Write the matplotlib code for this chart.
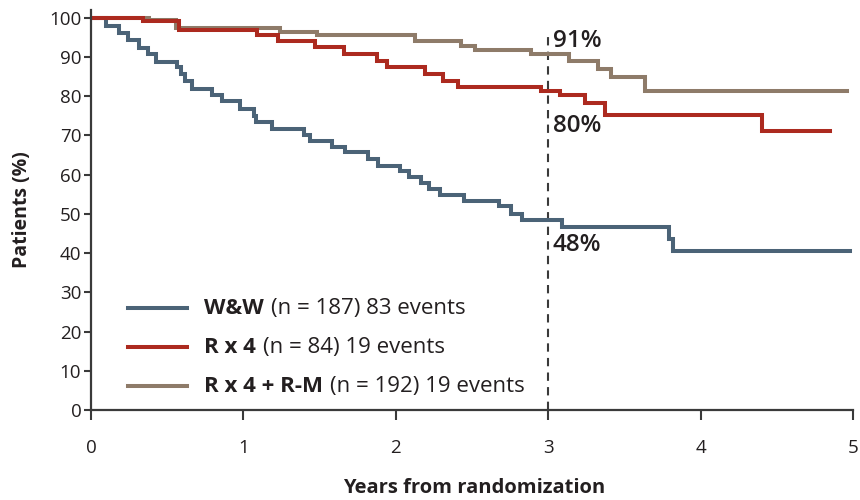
import matplotlib
matplotlib.use("Agg")
import matplotlib.pyplot as plt
from matplotlib.offsetbox import AnchoredOffsetbox, HPacker, VPacker, TextArea, DrawingArea
from matplotlib.lines import Line2D

plt.rcParams['font.family'] = ['Open Sans', 'DejaVu Sans']

# Kaplan-Meier steps (years, % of patients)
ww_years = [0, 0.10, 0.187, 0.246, 0.318, 0.372, 0.426, 0.567, 0.59, 0.615, 0.665, 0.796,
            0.861, 0.98, 1.07, 1.08, 1.19, 1.396, 1.44, 1.58, 1.668, 1.82, 1.885, 2.027,
            2.085, 2.168, 2.22, 2.288, 2.45, 2.68, 2.755, 2.83, 3.09, 3.79, 3.82, 4.98]
ww_pct = [100, 98.0, 96.1, 94.3, 92.4, 90.7, 88.8, 87.4, 85.6, 83.9, 81.8, 80.2,
          78.7, 76.8, 75.0, 73.4, 71.7, 70.0, 68.5, 67.0, 65.7, 64.0, 62.1, 60.9,
          59.5, 57.9, 56.4, 54.7, 53.2, 51.9, 50.0, 48.4, 46.6, 43.7, 40.5, 40.5]

r4_years = [0, 0.34, 0.58, 1.09, 1.23, 1.47, 1.66, 1.875, 1.94, 2.19, 2.31, 2.41,
            2.95, 3.08, 3.24, 3.37, 4.40, 4.85]
r4_pct = [100, 99.2, 96.9, 95.6, 94.1, 92.5, 90.8, 89.1, 87.4, 85.7, 84.0, 82.3,
          81.4, 80.2, 78.3, 75.3, 71.2, 71.2]

rm_years = [0, 0.38, 0.556, 1.24, 1.48, 2.125, 2.43, 2.52, 2.885, 3.135, 3.33, 3.41,
            3.635, 4.96]
rm_pct = [100, 99.4, 97.5, 96.4, 95.6, 94.1, 92.9, 91.8, 90.8, 89.1, 86.9, 85.0,
          81.4, 81.4]

arm_names = ['W&W', 'R x 4', 'R x 4 + R-M']
arm_notes = ['(n = 187) 83 events', '(n = 84) 19 events', '(n = 192) 19 events']
arm_colors = ['#4b6377', '#ac2a1f', '#8e7b69']

landmark = 3
landmark_labels = ['91%', '80%', '48%']
landmark_label_y = [94.2, 72.5, 42.0]

ink = '#231f20'

fig = plt.figure(figsize=(8.6, 5), dpi=100)
ax = fig.add_axes([91 / 860, 90 / 500, 762 / 860, 400 / 500])

ax.step(rm_years, rm_pct, where='post', color=arm_colors[2], lw=2.9, solid_joinstyle='miter')
ax.step(ww_years, ww_pct, where='post', color=arm_colors[0], lw=2.9, solid_joinstyle='miter')
ax.step(r4_years, r4_pct, where='post', color=arm_colors[1], lw=2.9, solid_joinstyle='miter')

ax.vlines(landmark, 0, 96.5, colors='#3a3a3a', lw=1.5, linestyles=(0, (4, 3)), zorder=0.5)
for lab, yy in zip(landmark_labels, landmark_label_y):
    ax.text(landmark + 0.03, yy, lab, ha='left', va='center', fontsize=17.5,
            fontweight='semibold', color=ink)

ax.set_xlim(0, 5)
ax.set_ylim(0, 102)
ax.set_xticks(range(0, 6))
ax.set_yticks(range(0, 101, 10))
ax.tick_params(axis='both', direction='out', color='#3a3a3a', width=1.5, labelsize=13.5,
               labelcolor=ink)
ax.tick_params(axis='x', length=7, pad=14)
ax.tick_params(axis='y', length=5, pad=2)
for side in ['top', 'right']:
    ax.spines[side].set_visible(False)
for side in ['left', 'bottom']:
    ax.spines[side].set_linewidth(1.6)
    ax.spines[side].set_color('#3a3a3a')

ax.set_ylabel('Patients (%)', fontsize=14, fontweight='bold', color=ink, labelpad=12)
fig.text(474 / 860, 12 / 500, 'Years from randomization', ha='center', va='center',
         fontsize=14.5, fontweight='bold', color=ink)

# legend rows: coloured handle, bold arm name, plain details
rows = []
for name, note, color in zip(arm_names, arm_notes, arm_colors):
    da = DrawingArea(43, 14)
    da.add_artist(Line2D([0, 43], [7, 7], color=color, lw=2.9))
    txt = HPacker(children=[TextArea(name, textprops=dict(fontsize=16, fontweight='bold', color=ink)),
                            TextArea(note, textprops=dict(fontsize=16, color=ink))],
                  sep=5, align='baseline')
    rows.append(HPacker(children=[da, txt], sep=12, align='center'))
box = VPacker(children=rows, sep=13, align='left')
leg = AnchoredOffsetbox(loc='lower left', child=box, pad=0, borderpad=0, frameon=False,
                        bbox_to_anchor=(0.048, 0.033), bbox_transform=ax.transAxes)
ax.add_artist(leg)

fig.savefig('out.png', dpi=100)
